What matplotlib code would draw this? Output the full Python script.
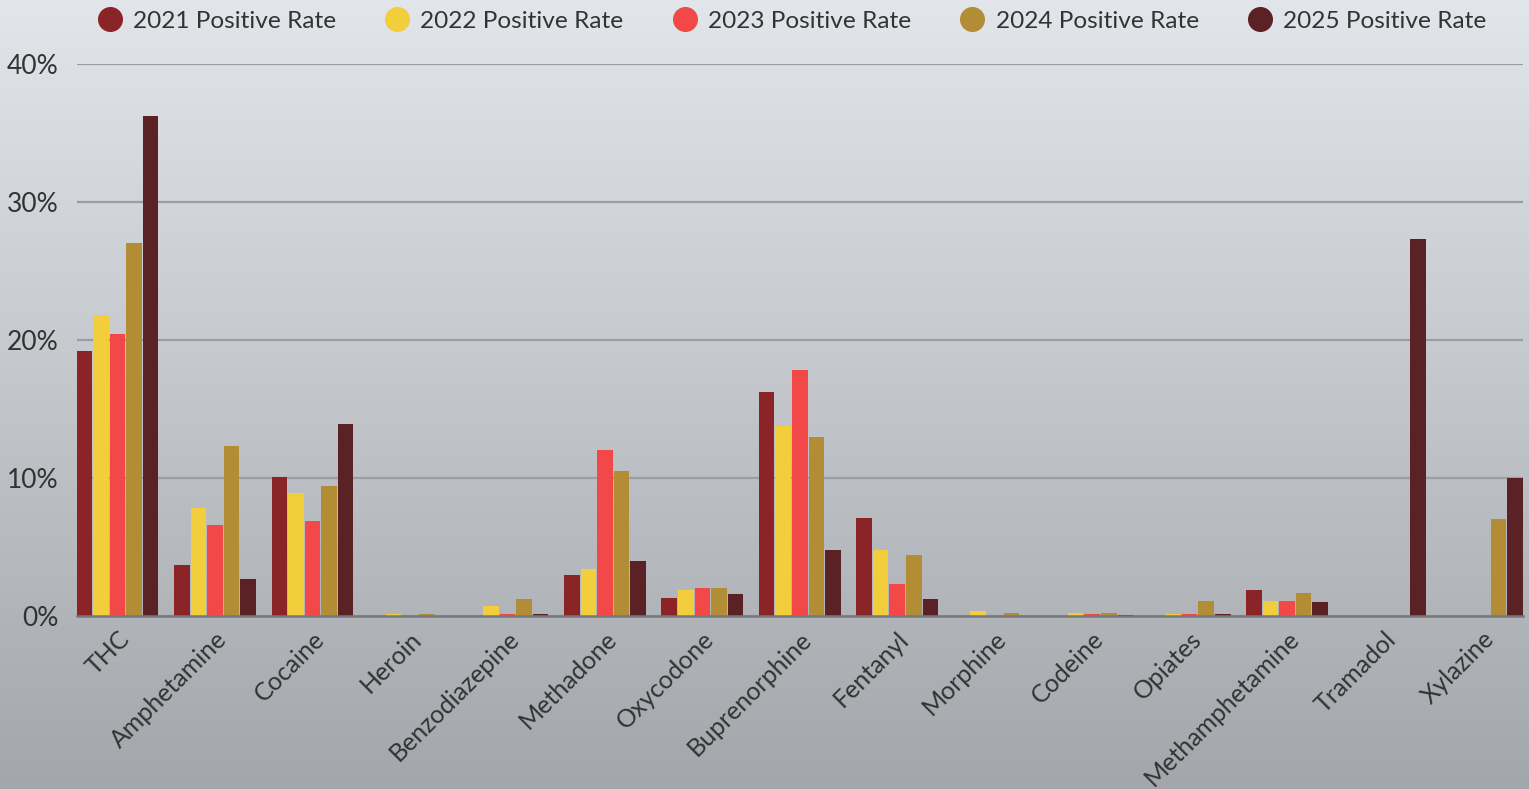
import numpy as np
import matplotlib
matplotlib.use("Agg")
import matplotlib.pyplot as plt
from matplotlib.lines import Line2D

categories = ["THC", "Amphetamine", "Cocaine", "Heroin", "Benzodiazepine", "Methadone",
              "Oxycodone", "Buprenorphine", "Fentanyl", "Morphine", "Codeine", "Opiates",
              "Methamphetamine", "Tramadol", "Xylazine"]
series_names = ["2021 Positive Rate", "2022 Positive Rate", "2023 Positive Rate",
                "2024 Positive Rate", "2025 Positive Rate"]
rate_2021 = [19.2, 3.7, 10.1, 0.0, 0.0, 3.0, 1.3, 16.2, 7.1, 0.0, 0.0, 0.0, 1.9, 0.0, 0.0]
rate_2022 = [21.8, 7.8, 8.9, 0.15, 0.7, 3.4, 1.9, 13.8, 4.8, 0.36, 0.24, 0.15, 1.1, 0.0, 0.0]
rate_2023 = [20.4, 6.6, 6.9, 0.0, 0.17, 12.0, 2.0, 17.8, 2.3, 0.0, 0.12, 0.12, 1.1, 0.0, 0.0]
rate_2024 = [27.0, 12.3, 9.4, 0.15, 1.26, 10.5, 2.05, 13.0, 4.45, 0.2, 0.2, 1.1, 1.7, 0.0, 7.0]
rate_2025 = [36.2, 2.7, 13.9, 0.0, 0.17, 4.0, 1.6, 4.8, 1.2, 0.0, 0.05, 0.17, 1.0, 27.3, 10.0]
colors = ["#8b2427", "#f2cd3c", "#f24848", "#b38c36", "#5a2225"]
yticks = [0, 10, 20, 30, 40]

series = [rate_2021, rate_2022, rate_2023, rate_2024, rate_2025]

plt.rcParams['font.family'] = ['Lato', 'DejaVu Sans']

W, H = 1529, 789
fig = plt.figure(figsize=(W / 100, H / 100), dpi=100)

# background gradient
bg = fig.add_axes([0, 0, 1, 1], zorder=0)
top = np.array([0xe2, 0xe6, 0xea]) / 255
bot = np.array([0xa3, 0xa6, 0xaa]) / 255
t = np.linspace(0, 1, 256)[:, None]
grad = top[None, :] * (1 - t) + bot[None, :] * t
bg.imshow(grad[:, None, :], aspect='auto', extent=[0, 1, 0, 1])
bg.axis('off')

ax = fig.add_axes([76.6 / W, 173 / H, (1523 - 76.6) / W, (616 - 64) / H], zorder=1)
ax.patch.set_alpha(0)

x = np.arange(len(categories))
step = 0.17
bw = 0.16
for k, (vals, c, name) in enumerate(zip(series, colors, series_names)):
    offs = (k - 2) * step
    v = np.array(vals)
    mask = v > 0
    ax.bar(x[mask] + offs, v[mask], width=bw, color=c, zorder=3, label=name)

ax.set_xlim(-0.42, len(categories) - 1 + 0.42)
ax.set_ylim(0, 40)
ax.set_yticks(yticks)
ax.set_yticklabels([f"{v}%" for v in yticks], fontsize=19, color="#333333")
ax.yaxis.grid(True, color="#9a9ea3", linewidth=1.6, zorder=0)
ax.set_axisbelow(True)
ax.tick_params(axis='y', length=0, pad=13)
ax.tick_params(axis='x', length=0, pad=8)
ax.set_xticks(x)
ax.set_xticklabels(categories, rotation=45, ha='right', rotation_mode='anchor',
                   fontsize=18, color="#333333")
for s in ['top', 'right', 'left']:
    ax.spines[s].set_visible(False)
ax.spines['bottom'].set_color("#75787c")
ax.spines['bottom'].set_linewidth(1.8)
ax.spines['bottom'].set_zorder(4)

handles = [Line2D([0], [0], marker='o', linestyle='none', markersize=17,
                  markerfacecolor=c, markeredgecolor=c) for c in colors]
fig.legend(handles, series_names, loc='center', bbox_to_anchor=(792 / W, 1 - 21 / H),
           ncol=5, frameon=False, fontsize=17.6, handlelength=1.0, handletextpad=0.45,
           columnspacing=2.0, labelcolor="#333333")

fig.savefig("out.png", dpi=100)
